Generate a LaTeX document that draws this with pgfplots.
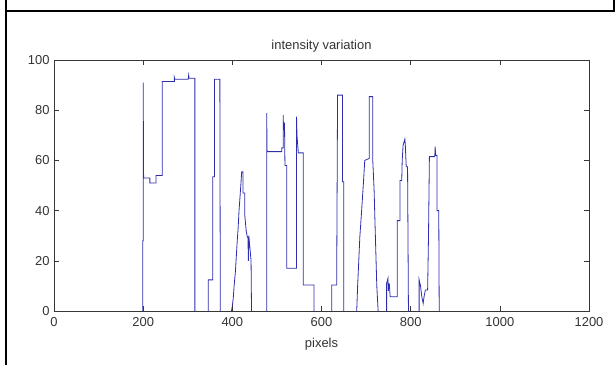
\documentclass[border=0pt]{standalone}
\usepackage{pgfplots}
\pgfplotsset{compat=1.18}
\usepackage{fontspec}
\setmainfont{Liberation Sans}
\definecolor{lineblue}{RGB}{45,45,175}
\definecolor{axgray}{RGB}{55,55,55}
\begin{document}
\begin{tikzpicture}[x=1bp,y=1bp]
\path[use as bounding box] (0,0) rectangle (615,365);
\draw[line width=1.2bp] (6,0) -- (6,365);
\draw[line width=1.6bp] (6,354) -- (615,354);
\draw[line width=1.2bp] (614,354) -- (614,365);
\begin{axis}[at={(54bp,54bp)}, anchor=south west, scale only axis,
  width=535bp, height=251bp,
  xmin=0, xmax=1200, ymin=0, ymax=100,
  xtick={0,200,...,1200}, ytick={0,20,...,100},
  tick align=inside, major tick length=5bp,
  axis on top,
  unbounded coords=jump,
  axis line style={axgray, line width=0.9bp},
  tick style={axgray, line width=0.6bp},
  ticklabel style={font=\fontsize{13}{13}\selectfont, text=black!80},
  xticklabel style={yshift=-3bp},
  yticklabel style={xshift=-1bp},
  /pgf/number format/assume math mode=true,
  /pgf/number format/1000 sep={},
  title={intensity variation},
  title style={font=\fontsize{13}{13}\selectfont, text=black!80, yshift=-2bp},
  xlabel={pixels},
  xlabel style={font=\fontsize{13}{13}\selectfont, text=black!80, yshift=-5bp},
  ]
\addplot[lineblue, line width=0.8bp] coordinates {
(199,0) (199,28) (200,28) (200,91) (201,53) (215,53) (215,51) (229,51) (229,54)
(243,54) (243,91.4) (270,91.4) (270,93) (271,92.3) (301,92.3) (302,94) (303,92.7)
(316,92.7) (316,0) (330,nan) (346,0) (346,12.4) (356,12.4) (356,53.5) (360,53.5) (360,92.3)
(372,92.3) (373,0) (385,nan) (398,0)
(400,2) (402,5) (404,10) (407,16) (409,22) (411,28) (413,33) (415,40) (417,45) (419,50) (421,55.5)
(424,55.5) (424,47) (428,47) (428,38) (431,32) (433,30) (435,29) (436,20) (437,30) (440,24) (442,20) (443,0)
(460,nan) (477,0) (477,78.8) (478,63.5) (511,63.5) (511,65) (514,65) (514,78) (515,72) (517,75) (518,58)
(522,58) (522,17) (544,17) (544,77.4) (545,70) (548,63) (559,63) (559,10.4) (583,10.4) (583,0)
(600,nan) (623,0) (623,10.4) (634,10.4) (636,86) (647,86) (647,51.5) (650,51.5) (650,0)
(665,nan) (679,0) (681,10) (683,17.7) (686,29.6) (690,40) (694,51) (697,60) (707,60.8) (707,85.4)
(715,85.4) (715,60) (718,48) (720,35) (724,10) (727,0)
(735,nan) (746,0) (746,11) (749,13) (750,8) (752,11) (754,5.7) (770,5.7) (770,36) (776,36) (776,52)
(780,52) (781,60) (783,66) (787,68.5) (788,66) (790,57.5) (793,57.5) (795,0)
(805,nan) (819,0) (819,12.4) (822,10) (825,5.7) (828,3) (830,5.7) (833,8.4) (838,8.4) (840,30) (842,61.5)
(854,61.5) (855,65.5) (856,62) (859,62) (859,40) (863,40) (864,0)
};
\end{axis}
\end{tikzpicture}
\end{document}
